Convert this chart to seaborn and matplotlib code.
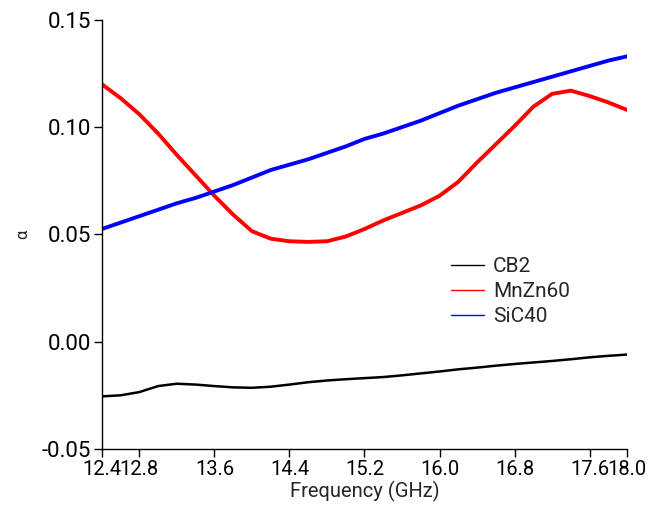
import numpy as np
import pandas as pd
import matplotlib
matplotlib.use("Agg")
import matplotlib.pyplot as plt
import seaborn as sns

# ---------------------------------------------------------
# Data
# ---------------------------------------------------------
freq = [12.4, 12.6, 12.8, 13.0, 13.2, 13.4, 13.6, 13.8, 14.0, 14.2,
        14.4, 14.6, 14.8, 15.0, 15.2, 15.4, 15.6, 15.8, 16.0, 16.2,
        16.4, 16.6, 16.8, 17.0, 17.2, 17.4, 17.6, 17.8, 18.0]

cb2 = [-0.0255, -0.0250, -0.0235, -0.0207, -0.0196, -0.0200, -0.0207, -0.0213,
       -0.0215, -0.0210, -0.0200, -0.0189, -0.0181, -0.0175, -0.0170, -0.0165,
       -0.0157, -0.0148, -0.0139, -0.0129, -0.0121, -0.0112, -0.0104, -0.0097,
       -0.0090, -0.0082, -0.0073, -0.0066, -0.0060]

mnzn60 = [0.1200, 0.1135, 0.1060, 0.0970, 0.0870, 0.0775, 0.0680, 0.0592,
          0.0515, 0.0480, 0.0468, 0.0465, 0.0468, 0.0490, 0.0525, 0.0565,
          0.0600, 0.0635, 0.0680, 0.0745, 0.0835, 0.0920, 0.1005, 0.1095,
          0.1155, 0.1170, 0.1145, 0.1115, 0.1080]

sic40 = [0.0525, 0.0555, 0.0585, 0.0615, 0.0645, 0.0670, 0.0700, 0.0730,
         0.0765, 0.0800, 0.0825, 0.0850, 0.0880, 0.0910, 0.0945, 0.0970,
         0.1000, 0.1030, 0.1065, 0.1100, 0.1130, 0.1160, 0.1185, 0.1210,
         0.1235, 0.1260, 0.1285, 0.1310, 0.1330]

series_names = ["CB2", "MnZn60", "SiC40"]
series_colors = ["#000000", "#ff0000", "#0000ff"]
series_widths = [1.8, 2.8, 2.8]

x_ticks = [12.4, 12.8, 13.6, 14.4, 15.2, 16.0, 16.8, 17.6, 18.0]
y_ticks = [-0.05, 0.00, 0.05, 0.10, 0.15]

df = pd.DataFrame({
    "Frequency": freq * 3,
    "alpha": cb2 + mnzn60 + sic40,
    "Sample": [n for n in series_names for _ in freq],
})

# ---------------------------------------------------------
# Plot
# ---------------------------------------------------------
sns.set_style("ticks")
plt.rcParams["font.family"] = ["Roboto", "DejaVu Sans"]
plt.rcParams["axes.unicode_minus"] = False

fig, ax = plt.subplots(figsize=(6.7, 5.09), dpi=100)
fig.subplots_adjust(left=0.152, right=0.936, top=0.961, bottom=0.118)

for name, color, lw in zip(series_names, series_colors, series_widths):
    sns.lineplot(data=df[df["Sample"] == name], x="Frequency", y="alpha",
                 color=color, linewidth=lw, label=name, ax=ax)

ax.set_xlim(12.4, 18.0)
ax.set_ylim(-0.05, 0.15)
ax.set_xticks(x_ticks)
ax.set_xticklabels([f"{t:.1f}" for t in x_ticks])
ax.set_yticks(y_ticks)
ax.set_yticklabels([f"{t:.2f}" for t in y_ticks])
ax.tick_params(axis="both", length=6, width=1, colors="black", pad=2)
ax.tick_params(axis="y", labelsize=16)
ax.tick_params(axis="x", labelsize=14.5)
ax.set_xlabel("Frequency (GHz)", fontsize=14.5, labelpad=1)
ax.set_ylabel("α", fontsize=12, labelpad=8)
sns.despine(ax=ax)
for side in ["left", "bottom"]:
    ax.spines[side].set_color("black")
    ax.spines[side].set_linewidth(1)

leg = ax.legend(loc="upper left", bbox_to_anchor=(0.665, 0.447), frameon=False,
                fontsize=15, handlelength=1.6, handletextpad=0.4,
                borderpad=0, borderaxespad=0, labelspacing=0.28)
for line in leg.get_lines():
    line.set_linewidth(1.0)

plt.savefig("out.png", dpi=100)
plt.close()
